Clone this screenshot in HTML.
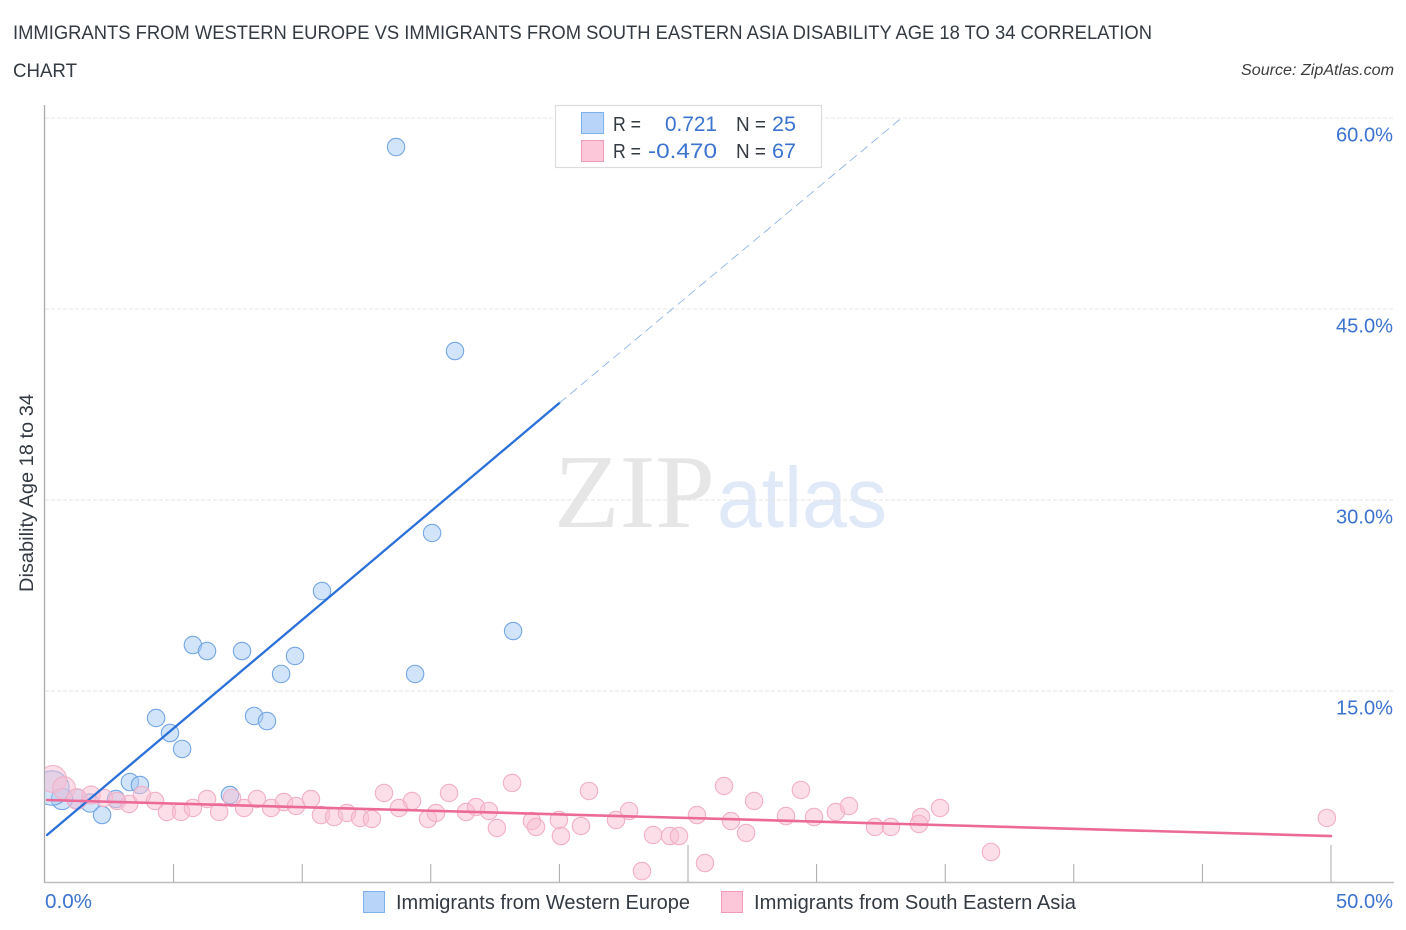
<!DOCTYPE html>
<html lang="en">
<head>
<meta charset="utf-8">
<title>Disability Age 18 to 34 Correlation Chart</title>
<style>
html,body{margin:0;padding:0;background:#fff;}
body{width:1406px;height:930px;overflow:hidden;}
svg{display:block;font-family:"Liberation Sans",sans-serif;}
</style>
</head>
<body>
<svg id="chart" width="1406" height="930" viewBox="0 0 1406 930" xmlns="http://www.w3.org/2000/svg">
  <defs>
    <clipPath id="plot-clip"><rect x="45" y="100" width="1360" height="782"/></clipPath>
  </defs>
  <g id="watermark">
    <text x="554" y="527" font-family="'Liberation Serif',serif" font-size="105" fill="#e6e6e6" textLength="161" lengthAdjust="spacingAndGlyphs">ZIP</text>
    <text x="717" y="527" font-size="85" fill="#dfe9f8" textLength="170" lengthAdjust="spacingAndGlyphs">atlas</text>
  </g>
  <g id="grid"></g>
  <g id="axes"></g>
  <g id="blue-points" clip-path="url(#plot-clip)"></g>
  <g id="pink-points" clip-path="url(#plot-clip)"></g>
  <g id="trends"></g>

  <text x="13" y="39" font-size="19" fill="#333a42" textLength="1139" lengthAdjust="spacingAndGlyphs">IMMIGRANTS FROM WESTERN EUROPE VS IMMIGRANTS FROM SOUTH EASTERN ASIA DISABILITY AGE 18 TO 34 CORRELATION</text>
  <text x="13" y="77" font-size="19" fill="#333a42" textLength="64" lengthAdjust="spacingAndGlyphs">CHART</text>
  <text x="1241" y="75" font-size="15.5" font-style="italic" fill="#3d3d3d" textLength="153" lengthAdjust="spacingAndGlyphs">Source: ZipAtlas.com</text>
  <text transform="translate(33,592) rotate(-90)" x="0" y="0" font-size="19" fill="#333a42" textLength="198" lengthAdjust="spacingAndGlyphs">Disability Age 18 to 34</text>

  <g>
    <rect x="555.5" y="105.5" width="266" height="62" fill="#fff" stroke="#dcdcdc" stroke-width="1.2"/>
    <rect x="581.5" y="112.5" width="22" height="21" fill="#b9d4f9" stroke="#7fb0ea"/>
    <rect x="581.5" y="140.5" width="22" height="21" fill="#fbc7d9" stroke="#f09cb8"/>
    <text x="613" y="131" font-size="20" fill="#333a42" textLength="28" lengthAdjust="spacingAndGlyphs">R =</text>
    <text x="665" y="131" font-size="21" fill="#3b73cf" textLength="52" lengthAdjust="spacingAndGlyphs">0.721</text>
    <text x="736" y="131" font-size="20" fill="#333a42" textLength="30" lengthAdjust="spacingAndGlyphs">N =</text>
    <text x="772" y="131" font-size="21" fill="#3b73cf" textLength="24" lengthAdjust="spacingAndGlyphs">25</text>
    <text x="613" y="158" font-size="20" fill="#333a42" textLength="28" lengthAdjust="spacingAndGlyphs">R =</text>
    <text x="648" y="158" font-size="21" fill="#3b73cf" textLength="69" lengthAdjust="spacingAndGlyphs">-0.470</text>
    <text x="736" y="158" font-size="20" fill="#333a42" textLength="30" lengthAdjust="spacingAndGlyphs">N =</text>
    <text x="772" y="158" font-size="21" fill="#3b73cf" textLength="24" lengthAdjust="spacingAndGlyphs">67</text>
  </g>

  <g>
    <rect x="363.5" y="891.5" width="21" height="21" fill="#b9d4f9" stroke="#7fb0ea"/>
    <text x="396" y="909" font-size="20" fill="#333a42" textLength="294" lengthAdjust="spacingAndGlyphs">Immigrants from Western Europe</text>
    <rect x="721.5" y="891.5" width="21" height="21" fill="#fbc7d9" stroke="#f09cb8"/>
    <text x="754" y="909" font-size="20" fill="#333a42" textLength="322" lengthAdjust="spacingAndGlyphs">Immigrants from South Eastern Asia</text>
  </g>
</svg>
<script>
const yTicks = [15, 30, 45, 60];
const yTickLabels = ["15.0%", "30.0%", "45.0%", "60.0%"];
const xMinorTicks = [5, 10, 15, 20, 30, 35, 40, 45];
const xMajorTicks = [25, 50];
const xEndLabels = ["0.0%", "50.0%"];

const blueX = [13.65,15.94,15.05,10.77,18.20,5.75,6.30,7.66,9.72,9.18,14.39,4.32,8.13,8.63,4.86,5.33,3.30,3.69,7.19,2.76,2.22,1.75,1.24,0.66,0.27];
const blueY = [57.72,41.70,27.41,22.85,19.71,18.61,18.14,18.14,17.75,16.34,16.34,12.88,13.04,12.64,11.70,10.45,7.85,7.62,6.83,6.52,5.26,6.20,6.52,6.52,7.38];
const blueWeight = [1,1,1,1,1,1,1,1,1,1,1,1,1,1,1,1,1,1,1,1,1,1.1,1.3,1.5,3.9];

const pinkX = [0.31,0.74,1.24,1.79,2.29,2.80,3.27,3.77,4.28,4.74,5.29,5.75,6.30,6.77,7.27,7.74,8.24,8.79,9.29,9.76,10.34,10.73,11.24,11.74,12.25,12.71,13.18,13.76,14.27,14.89,15.20,15.71,16.37,16.76,17.26,17.57,18.16,18.93,19.09,19.98,20.06,20.84,21.15,22.20,22.71,23.64,24.30,24.65,23.21,25.66,25.35,26.40,26.67,27.57,27.26,28.81,29.39,29.90,30.75,31.26,32.27,32.89,34.06,33.98,34.80,36.78,49.84];
const pinkY = [8.09,7.38,6.52,6.83,6.60,6.36,6.13,6.83,6.36,5.50,5.50,5.81,6.52,5.50,6.60,5.81,6.52,5.81,6.28,5.97,6.52,5.26,5.10,5.42,5.03,4.95,6.99,5.81,6.36,4.95,5.42,6.99,5.50,5.89,5.58,4.24,7.78,4.79,4.32,4.87,3.61,4.40,7.15,4.87,5.58,3.69,3.61,3.61,0.86,1.49,5.26,7.54,4.79,6.36,3.85,5.18,7.23,5.10,5.50,5.97,4.32,4.32,5.10,4.56,5.81,2.36,5.03];
const pinkWeight = [2.4,1.7,1.4,1.1,1,1,1,1,1,1,1,1,1,1,1,1,1,1,1,1,1,1,1,1,1,1,1,1,1,1,1,1,1,1,1,1,1,1,1,1,1,1,1,1,1,1,1,1,1,1,1,1,1,1,1,1,1,1,1,1,1,1,1,1,1,1,1];

const blueTrendSolidX = [0.08, 20.0];
const blueTrendSolidY = [3.69, 37.62];
const blueTrendDashX = [20.0, 33.35];
const blueTrendDashY = [37.62, 60.08];
const pinkTrendX = [0.08, 50];
const pinkTrendY = [6.44, 3.61];

const NS = "http://www.w3.org/2000/svg";
function sx(v){ return 45 + v * 25.72; }
function sy(v){ return 882 - v * 12.733; }
function rad(w){ return 8.7 * Math.sqrt(w); }
function make(parent, tag, attrs){
  const el = document.createElementNS(NS, tag);
  for (const k in attrs) el.setAttribute(k, attrs[k]);
  document.getElementById(parent).appendChild(el);
  return el;
}

yTicks.forEach(function(t, i){
  const g = make("grid", "line", {x1: 45, x2: 1394, y1: sy(t), y2: sy(t), stroke: "#e4e4e4", "stroke-width": 0.9, "stroke-dasharray": "4 2"});
  
  
  const lab = make("axes", "text", {x: 1336, y: sy(t) + 23.5, "font-size": 20, fill: "#3b73cf", textLength: 57, lengthAdjust: "spacingAndGlyphs"});
  
  
  lab.textContent = yTickLabels[i];
});

const yAxis = make("axes", "line", {x1: 44.5, x2: 44.5, y1: 105, y2: 883, stroke: "#ababab", "stroke-width": 1.3});


const xAxis = make("axes", "line", {x1: 44, x2: 1394, y1: 882.5, y2: 882.5, stroke: "#bdbdbd", "stroke-width": 1.5});



xMinorTicks.forEach(function(t){
  const m = make("axes", "line", {x1: sx(t), x2: sx(t), y1: 864, y2: 882, stroke: "#a8a8a8", "stroke-width": 1});
  
  
});
xMajorTicks.forEach(function(t){
  const m = make("axes", "line", {x1: sx(t), x2: sx(t), y1: 845, y2: 882, stroke: "#a8a8a8", "stroke-width": 1});
  
  
});

const xStart = make("axes", "text", {x: 45, y: 908, "font-size": 20, fill: "#3b73cf", textLength: 47, lengthAdjust: "spacingAndGlyphs"});


xStart.textContent = xEndLabels[0];
const xEnd = make("axes", "text", {x: 1336, y: 908, "font-size": 20, fill: "#3b73cf", textLength: 57, lengthAdjust: "spacingAndGlyphs"});


xEnd.textContent = xEndLabels[1];

blueX.forEach(function(v, i){
  const c = make("blue-points", "circle", {cx: sx(v), cy: sy(blueY[i]), r: rad(blueWeight[i]), fill: "rgba(165,201,245,0.5)", stroke: "#74a6e4", "stroke-width": 1.1});
  
  
});
pinkX.forEach(function(v, i){
  const c = make("pink-points", "circle", {cx: sx(v), cy: sy(pinkY[i]), r: rad(pinkWeight[i]), fill: "rgba(248,190,210,0.5)", stroke: "#f2afc6", "stroke-width": 1.1});
  
  
});

const blueSolid = make("trends", "line", {x1: sx(blueTrendSolidX[0]), y1: sy(blueTrendSolidY[0]), x2: sx(blueTrendSolidX[1]), y2: sy(blueTrendSolidY[1]), stroke: "#2a70d8", "stroke-width": 2.3, "stroke-linecap": "round"});


const blueDash = make("trends", "line", {x1: sx(blueTrendDashX[0]), y1: sy(blueTrendDashY[0]), x2: sx(blueTrendDashX[1]), y2: sy(blueTrendDashY[1]), stroke: "#8fb5e8", "stroke-width": 0.9, "stroke-dasharray": "9 5"});


const pinkLine = make("trends", "line", {x1: sx(pinkTrendX[0]), y1: sy(pinkTrendY[0]), x2: sx(pinkTrendX[1]), y2: sy(pinkTrendY[1]), stroke: "#ec6a97", "stroke-width": 2.6, "stroke-linecap": "round"});


</script>
</body>
</html>
